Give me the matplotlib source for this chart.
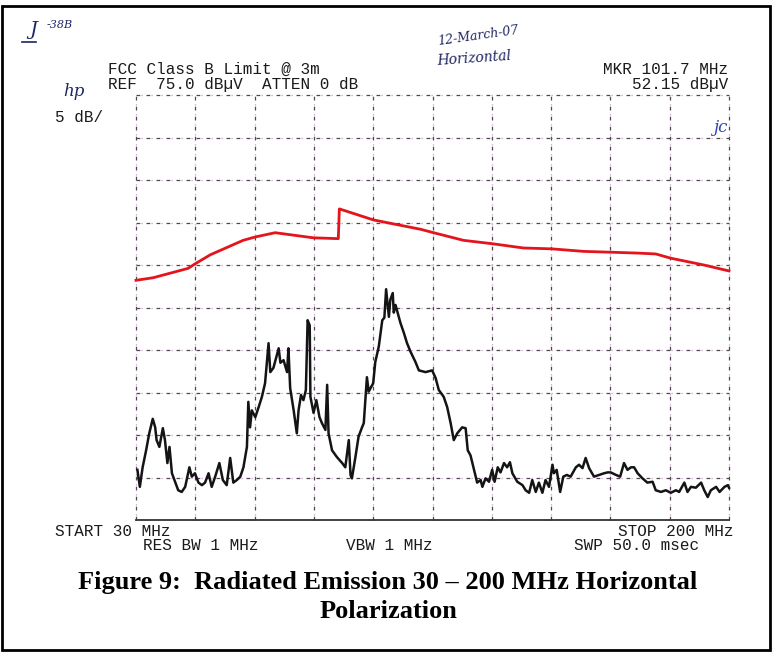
import matplotlib
matplotlib.use("Agg")
import matplotlib.pyplot as plt
from matplotlib.patches import Rectangle
from matplotlib.lines import Line2D

# Swept measurement: frequency (MHz) and level (dBuV)
trace_freq = [
    30.4, 31.1, 31.9, 32.9, 33.8, 34.8, 35.5, 35.9, 36.7, 37.7, 38.3, 39.0, 39.6,
    40.3, 41.2, 42.1, 43.1, 44.1, 45.3, 46.0, 46.9, 47.9, 48.9, 49.8, 50.8, 51.7,
    52.7, 53.9, 54.9, 56.0, 57.0, 57.9, 58.9, 59.9, 60.8, 61.8, 62.2, 62.7, 63.2,
    64.2, 65.1, 66.1, 67.0, 68.0, 68.5, 69.4, 70.9, 71.4, 72.3, 73.3, 73.7, 74.2,
    75.2, 76.1, 76.6, 77.3, 78.0, 78.7, 79.2, 79.8, 80.0, 80.9, 81.7, 82.6, 83.3,
    84.3, 84.8, 85.2, 86.2, 87.6, 89.1, 90.0, 91.0, 91.5, 91.9, 92.9, 93.8, 94.8,
    95.3, 96.2, 96.7, 98.0, 98.6, 99.6, 100.6, 101.2, 101.7, 102.5, 102.9, 103.6,
    103.9, 104.4, 105.0, 105.8, 106.8, 107.7, 108.7, 110.1, 111.1, 113.0, 114.9,
    115.9, 116.8, 118.2, 119.2, 120.2, 121.1, 122.1, 123.5, 124.5, 125.1, 125.9,
    126.9, 127.8, 128.8, 129.3, 130.2, 131.2, 132.1, 132.8, 133.7, 134.5, 135.5,
    136.4, 137.2, 137.9, 139.3, 140.8, 141.7, 142.7, 143.6, 144.6, 145.5, 146.5,
    147.4, 148.4, 149.4, 149.8, 150.6, 151.6, 152.5, 153.5, 154.6, 156.1, 157.0,
    158.0, 158.9, 159.9, 161.3, 162.8, 164.2, 165.2, 166.1, 167.6, 168.8, 169.9,
    170.9, 171.9, 172.8, 173.8, 175.2, 176.6, 178.1, 179.0, 180.5, 181.9, 183.3,
    184.8, 185.7, 187.2, 188.1, 189.1, 190.5, 192.0, 192.9, 193.9, 194.8, 196.3,
    197.3, 198.7, 199.7, 200.0,
]
trace_level = [
    30.9, 28.9, 31.2, 33.2, 35.2, 36.9, 35.9, 34.4, 33.6, 35.8, 34.4, 31.7, 33.6,
    30.5, 29.5, 28.5, 28.3, 28.9, 31.2, 30.1, 30.5, 29.4, 29.1, 29.4, 30.5, 28.9,
    30.1, 31.7, 29.7, 29.1, 32.3, 29.4, 29.7, 30.1, 31.2, 33.6, 38.9, 35.9, 37.9,
    37.1, 38.2, 39.5, 41.1, 45.8, 42.4, 42.9, 45.2, 43.5, 43.8, 42.4, 45.2, 40.5,
    37.9, 35.2, 37.9, 39.7, 39.1, 40.3, 48.5, 47.9, 39.5, 37.6, 39.1, 37.1, 36.4,
    35.6, 40.9, 35.2, 33.2, 32.4, 31.7, 31.2, 34.4, 30.3, 29.9, 32.4, 34.8, 35.9,
    36.4, 41.8, 40.1, 41.1, 43.6, 45.4, 48.5, 48.8, 52.15, 48.9, 50.9, 51.7,
    49.4, 50.3, 49.4, 48.2, 47.0, 45.8, 44.8, 43.6, 42.6, 42.4, 42.6,
    41.7, 40.3, 39.5, 38.3, 36.4, 34.4, 35.2, 35.9, 35.8, 33.2, 32.6,
    30.9, 29.4, 29.7, 28.9, 29.9, 29.5, 30.9, 29.5, 31.2, 30.6, 31.7,
    31.2, 31.8, 30.5, 29.5, 29.1, 28.5, 28.2, 29.7, 28.3, 29.4, 28.2,
    29.7, 28.9, 31.5, 30.5, 30.9, 28.3, 30.1, 30.3, 30.1, 31.2, 31.5,
    31.1, 32.3, 31.1, 30.1, 30.3, 30.5, 30.6, 30.6, 30.3, 30.1, 31.7,
    30.9, 31.2, 31.2, 30.5, 29.9, 29.4, 29.5, 28.5, 28.3, 28.5, 28.2,
    28.5, 28.3, 29.4, 28.3, 28.9, 28.8, 29.4, 28.5, 27.7, 28.5, 28.9,
    28.3, 28.9, 29.1, 28.8,
]

# FCC Class B limit @ 3 m as displayed (dBuV)
limit_freq = [30.0, 34.9, 44.9, 47.2, 51.3, 60.7, 64.2, 69.9, 80.8, 88.0, 88.3,
              98.1, 111.6, 115.3, 123.9, 132.2, 141.1, 149.2, 158.4, 166.4, 173.9,
              179.0, 183.3, 192.8, 200.0]
limit_level = [53.2, 53.5, 54.6, 55.2, 56.2, 57.9, 58.3, 58.8, 58.2, 58.1, 61.6,
               60.3, 59.2, 58.8, 57.9, 57.5, 57.0, 56.9, 56.6, 56.5, 56.4,
               56.3, 55.8, 55.0, 54.3]

f_start, f_stop = 30, 200
ref_level, db_per_div = 75.0, 5
x_grid = [f_start + 17 * i for i in range(11)]
y_grid = [ref_level - db_per_div * i for i in range(11)]

W, H = 775, 652
fig = plt.figure(figsize=(W / 100, H / 100), dpi=100)
fig.patch.set_facecolor("white")

ax = fig.add_axes([136 / W, 1 - 520 / H, (729 - 136) / W, (520 - 95) / H])
ax.set_xlim(f_start, f_stop)
ax.set_ylim(y_grid[-1], ref_level)
ax.axis("off")

# graticule: dark dashes with coloured plotter dots
for f in x_grid:
    ax.axvline(f, color="#4a4a4a", lw=0.9, ls=(0, (3, 5)), clip_on=False)
    ax.axvline(f, color="#c04cc8", lw=0.9, ls=(4, (1, 7)), alpha=0.6, clip_on=False)
for lv in y_grid[:-1]:
    ax.axhline(lv, color="#4a4a4a", lw=0.9, ls=(0, (3, 5)), clip_on=False)
    ax.axhline(lv, color="#c04cc8", lw=0.9, ls=(4, (1, 7)), alpha=0.6, clip_on=False)
ax.axhline(y_grid[-1], color="#333333", lw=1.3, clip_on=False)

ax.plot(limit_freq, limit_level, color="#e4141c", lw=2.0, clip_on=False, zorder=3)
ax.plot(trace_freq, trace_level, color="#141414", lw=1.8, clip_on=False, zorder=4)


def put(x, y, s, **kw):
    kw.setdefault("va", "center")
    fig.text(x / W, 1 - y / H, s, **kw)


mono = dict(family="Liberation Mono", fontsize=11.5, color="#1a1a1a")
put(108, 69, "FCC Class B Limit @ 3m", ha="left", **mono)
put(108, 84, "REF  75.0 dB\u00b5V  ATTEN 0 dB", ha="left", **mono)
put(728, 70, "MKR 101.7 MHz", ha="right", **mono)
put(728, 84, "52.15 dB\u00b5V", ha="right", **mono)
put(55, 117, "5 dB/", ha="left", **mono)
put(55, 531, "START 30 MHz", ha="left", **mono)
put(733, 531, "STOP 200 MHz", ha="right", **mono)
put(143, 546, "RES BW 1 MHz", ha="left", **mono)
put(346, 546, "VBW 1 MHz", ha="left", **mono)
put(574, 546, "SWP 50.0 msec", ha="left", **mono)

hand = dict(family="DejaVu Serif", style="italic", color="#1e2660")
put(74, 92, "hp", ha="center", fontsize=12, **hand)
put(33, 30, "J", ha="center", fontsize=14, **hand)
put(60, 25, "-38B", ha="center", fontsize=8, **hand)
fig.add_artist(Line2D([22 / W, 36 / W], [1 - 42 / H, 1 - 42 / H],
                      color="#1e2660", lw=1.2))
put(478, 36, "12-March-07", ha="center", fontsize=9, rotation=8, **hand)
put(474, 58, "Horizontal", ha="center", fontsize=10, rotation=4, **hand)
put(720, 127, "jc", ha="center", fontsize=12, family="DejaVu Serif",
    style="italic", color="#2a44b8")

cap = dict(family="Liberation Serif", fontweight="bold", fontsize=19,
           color="black", ha="center")
put(388, 583, "Figure 9:  Radiated Emission 30 \u2013 200 MHz Horizontal", **cap)
put(388, 612, "Polarization", **cap)

fig.add_artist(Rectangle((1.5 / W, 2 / H), (769.5 - 1.5) / W, (646 - 2) / H,
                         transform=fig.transFigure, fill=False, lw=2,
                         ec="black"))

fig.savefig("out.png", dpi=100)
